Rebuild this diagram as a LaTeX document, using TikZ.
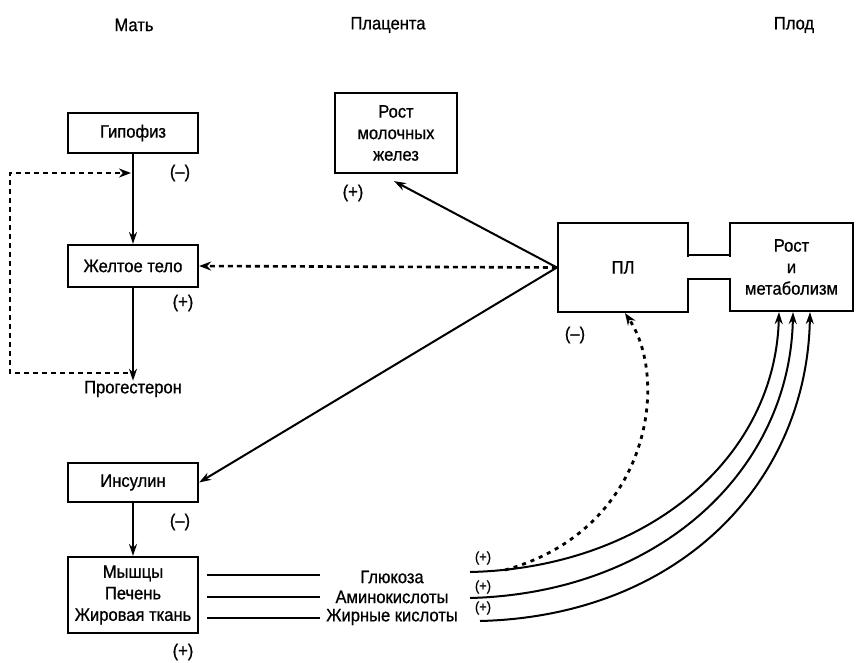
\documentclass[tikz,border=0pt]{standalone}
\usepackage{fontspec}
\setmainfont{Liberation Sans}[FakeStretch=0.92,FakeBold=0.8]
\usetikzlibrary{arrows.meta}
\begin{document}
\begin{tikzpicture}[x=1pt,y=-1pt,
  font=\fontsize{18}{21.5}\selectfont,
  box/.style={draw, line width=2.2pt, align=center, inner sep=0pt},
  arr/.style={line width=2pt, -{Stealth[length=12pt,width=8pt]}},
  dsh/.style={line width=2.6pt, dash pattern=on 5pt off 4pt},
  dot/.style={line width=2.8pt, dash pattern=on 4pt off 5pt},
  thin/.style={line width=2pt},
  lbl/.style={inner sep=0pt},
  small/.style={inner sep=0pt, font=\fontsize{14}{16}\selectfont}]
\useasboundingbox (0,0) rectangle (856,662);
% headers
\node[lbl] (h1) at (134,25) {Мать};
\node[lbl] (h2) at (388,25) {Плацента};
\node[lbl] (h3) at (794,25) {Плод};
% boxes
\node[box, minimum width=130, minimum height=40] (gip) at (133,133) {Гипофиз};
\node[box, minimum width=130, minimum height=42] (zh) at (133,266) {Желтое тело};
\node[lbl] (prog) at (133,389) {Прогестерон};
\node[box, minimum width=130, minimum height=39] (ins) at (133,482.5) {Инсулин};
\node[box, minimum width=130, minimum height=76] (mus) at (133,595) {Мышцы\\Печень\\Жировая ткань};
\node[box, minimum width=122, minimum height=80] (mol) at (396,133) {Рост\\молочных\\желез};
\node[box, minimum width=130, minimum height=89] (pl) at (623,267.5) {ПЛ};
\node[box, minimum width=123, minimum height=88] (rm) at (791.5,267) {Рост\\и\\метаболизм};
% channel between ПЛ and Рост
\fill[white] (686,256.5) rectangle (732,277.5);
\draw[box] (pl.east |- 0,255) -- (rm.west |- 0,255) (pl.east |- 0,279) -- (rm.west |- 0,279);
% substances
\node[lbl] (glu) at (392,577) {Глюкоза};
\node[lbl] (ami) at (392,597) {Аминокислоты};
\node[lbl] (fat) at (392,617) {Жирные кислоты};
% labels
\node[lbl] (l1) at (180,173) {(–)};
\node[lbl] (l2) at (183,303) {(+)};
\node[lbl] (l3) at (353,193) {(+)};
\node[lbl] (l4) at (575,335) {(–)};
\node[lbl] (l5) at (180,522) {(–)};
\node[lbl] (l6) at (183,652) {(+)};
\node[small] (p1) at (483,558) {(+)};
\node[small] (p2) at (483,587) {(+)};
\node[small] (p3) at (483,608) {(+)};
% coordinates
\coordinate (fbA) at (128,373);
\coordinate (fbB) at (10,373);
\coordinate (fbC) at (10,173);
\coordinate (fbD) at (131,173);
\coordinate (m1) at (207,575);
\coordinate (m2) at (207,597);
\coordinate (m3) at (207,618);
\coordinate (n1) at (320,575);
\coordinate (n2) at (320,597);
\coordinate (n3) at (320,618);
\coordinate (g0) at (470,572);
\coordinate (a0) at (470,598);
\coordinate (f0) at (480,621);
\coordinate (d0) at (505,570);
% vertical arrows
\draw[arr] (gip.south) -- (zh.north);
\draw[arr] (zh.south) -- (prog.north);
\draw[arr] (ins.south) -- (mus.north);
% feedback
\draw[dsh, -{Stealth[length=12pt,width=9pt]}] (fbA) -- (fbB) -- (fbC) -- (fbD);
% from PL
\draw[arr] (pl.west) -- ([xshift=-2pt,yshift=-7pt]mol.south);
\draw[dsh, -{Stealth[length=12pt,width=9pt]}] (pl.west) -- (zh.east);
\draw[arr] (pl.west) -- (ins.east);
% horizontal lines
\draw[thin] (m1) -- (n1);
\draw[thin] (m2) -- (n2);
\draw[thin] (m3) -- (n3);
% curves
\draw[arr] (g0) .. controls (645,568) and (775,460) .. ([xshift=-12.5pt]rm.south);
\draw[arr] (a0) .. controls (660,593) and (790,470) .. ([xshift=1.5pt]rm.south);
\draw[arr] (f0) .. controls (680,616) and (807,482) .. ([xshift=18.5pt]rm.south);
\draw[dot, -{Stealth[length=12pt,width=9pt]}] (d0) .. controls (650,530) and (670,380) .. ([xshift=2pt]pl.south);
\end{tikzpicture}
\end{document}
